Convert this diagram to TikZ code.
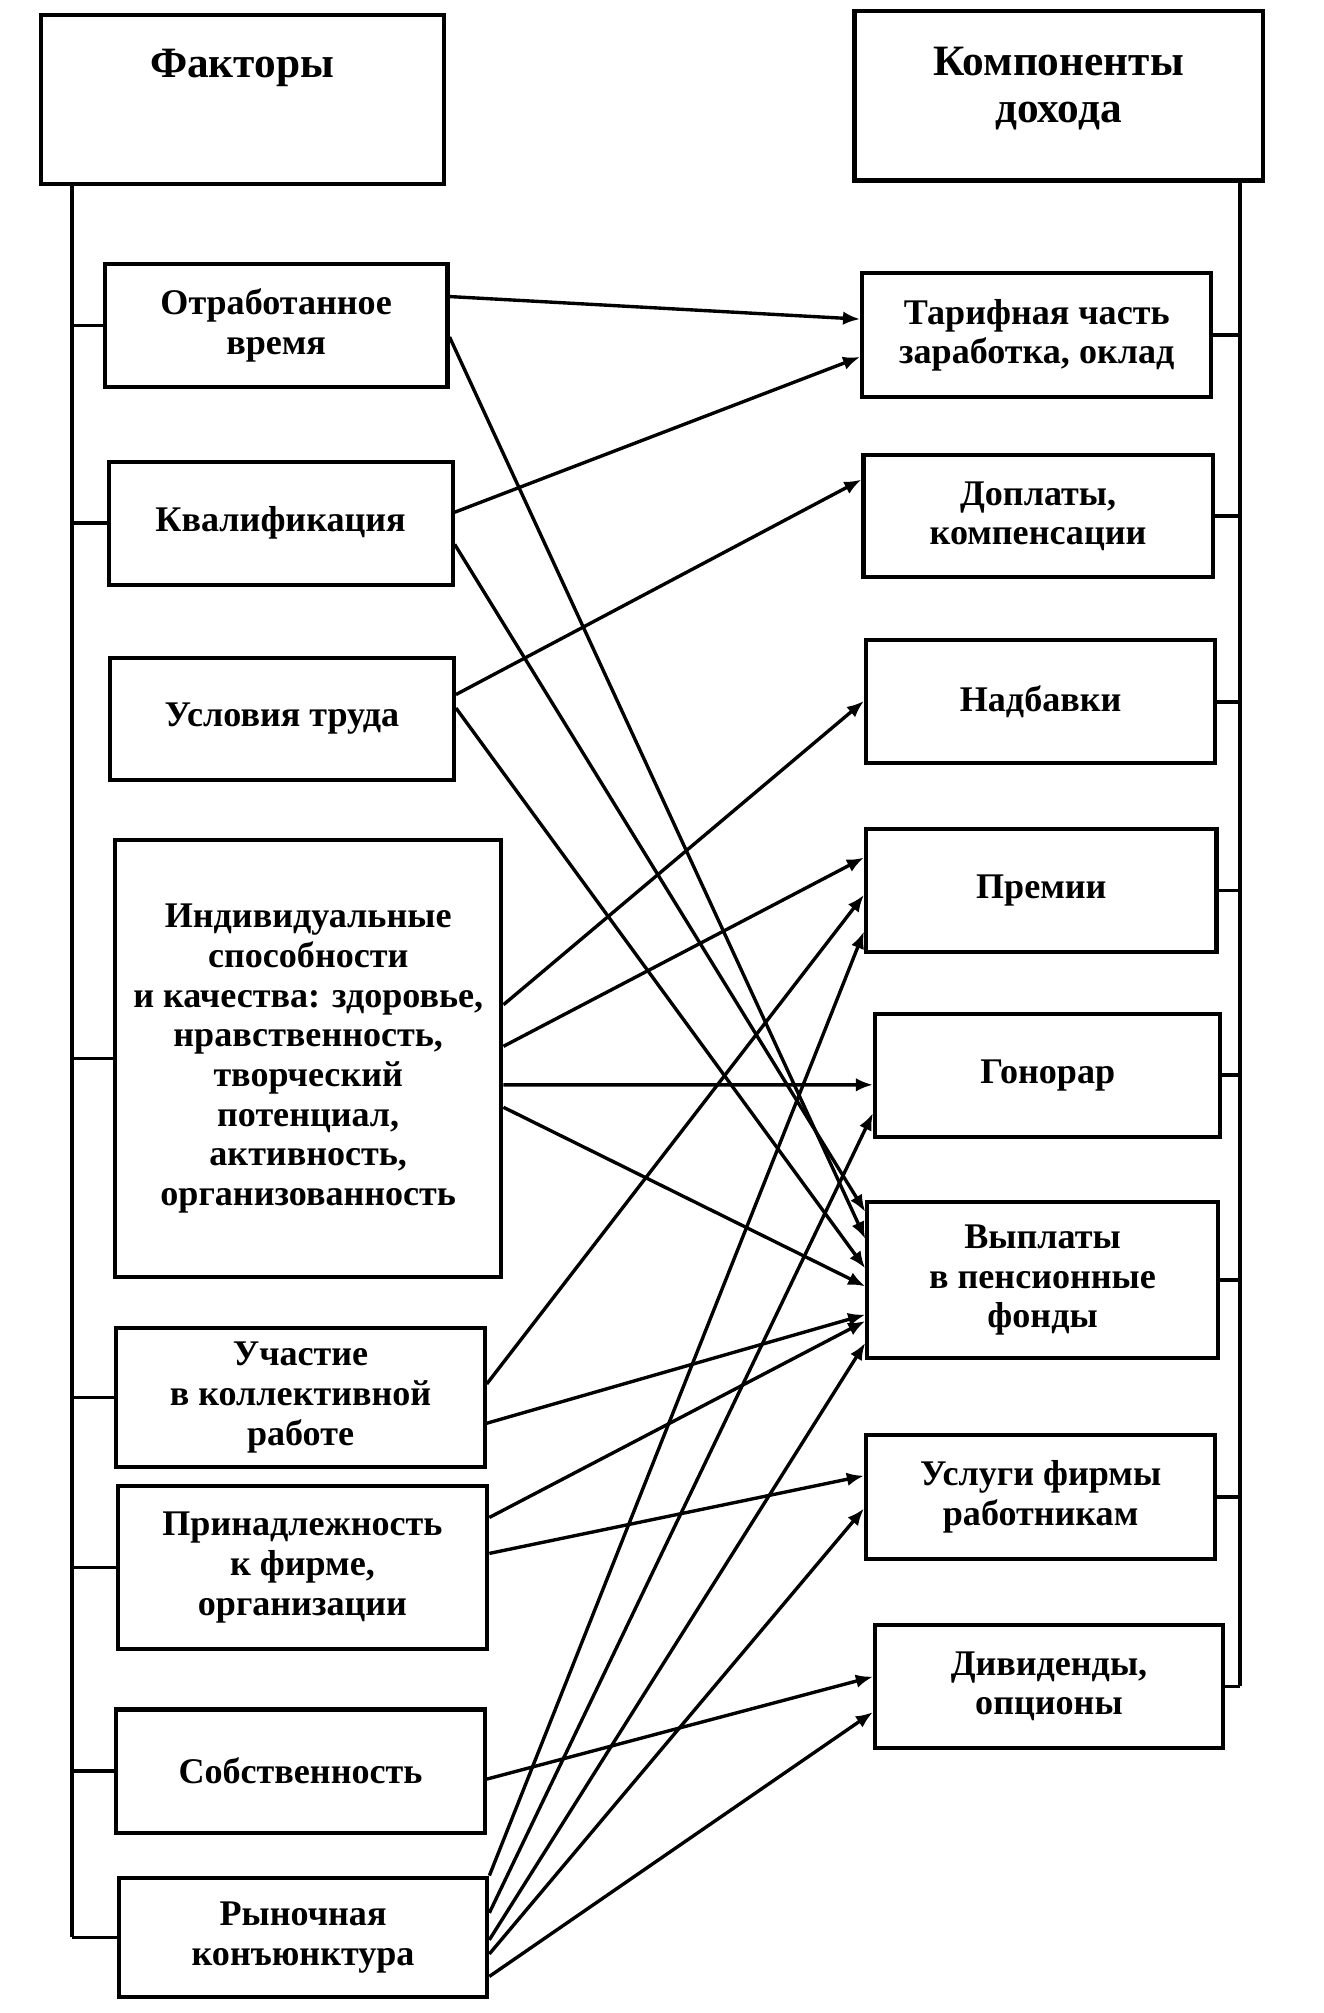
\documentclass[tikz,border=0pt]{standalone}
\usepackage{fontspec}
\setmainfont{Liberation Serif}
\usepackage{tikz}
\usetikzlibrary{arrows.meta,positioning}
\tikzset{
  fbox/.style={
    draw, line width=0.9pt, align=center, inner sep=2pt,
    font=\fontsize{8}{8.8}\selectfont\bfseries
  },
  hdr/.style={
    fbox, font=\fontsize{9.6}{10.5}\selectfont\bfseries,
    inner sep=0.1cm, text height=0.39cm, text depth=0.73cm
  },
  arr/.style={-{Latex[length=3.8pt,width=3pt]}, line width=0.75pt},
  bus/.style={line width=0.8pt}
}
\begin{document}
\begin{tikzpicture}
  \path[fill=white, use as bounding box] (0,0) rectangle (10.31,-15.68);
  % FACTORS
  \node[hdr, minimum width=3.14cm, anchor=north west] (fac) at (0.30,-0.10) {Факторы};
  \node[fbox, minimum width=2.67cm, minimum height=0.96cm, anchor=north west] (otr) at (0.80,-2.04)
    {Отработанное\\время};
  \node[fbox, minimum width=2.68cm, minimum height=0.96cm, anchor=north west] (kval) at (0.83,-3.58)
    {Квалификация};
  \node[fbox, minimum width=2.68cm, minimum height=0.95cm, anchor=north west] (usl) at (0.84,-5.11)
    {Условия труда};
  \node[fbox, minimum width=3.01cm, minimum height=3.40cm, anchor=north west] (ind) at (0.88,-6.53)
    {Индивидуальные\\способности\\и качества: здоровье,\\нравственность,\\творческий\\потенциал,\\активность,\\организованность};
  \node[fbox, minimum width=2.87cm, minimum height=1.08cm, anchor=north west] (uch) at (0.89,-10.33)
    {Участие\\в коллективной\\работе};
  \node[fbox, minimum width=2.88cm, minimum height=1.27cm, anchor=north west] (prin) at (0.90,-11.56)
    {Принадлежность\\к фирме,\\организации};
  \node[fbox, minimum width=2.87cm, minimum height=0.96cm, anchor=north west] (sobs) at (0.89,-13.30)
    {Собственность};
  \node[fbox, minimum width=2.87cm, minimum height=0.93cm, anchor=north west] (ryn) at (0.91,-14.61)
    {Рыночная\\конъюнктура};
  % INCOME COMPONENTS
  \node[hdr, text height=0.77cm, text depth=0.35cm, minimum width=3.18cm, anchor=north west] (komp)
    at (6.64,-0.07) {Компоненты\\дохода};
  \node[fbox, minimum width=2.72cm, minimum height=0.97cm, anchor=north west] (tar) at (6.70,-2.11)
    {Тарифная часть\\заработка, оклад};
  \node[fbox, minimum width=2.72cm, minimum height=0.95cm, anchor=north west] (dop) at (6.71,-3.53)
    {Доплаты,\\компенсации};
  \node[fbox, minimum width=2.72cm, minimum height=0.96cm, anchor=north west] (nad) at (6.73,-4.97)
    {Надбавки};
  \node[fbox, minimum width=2.73cm, minimum height=0.96cm, anchor=north west] (prem) at (6.73,-6.44)
    {Премии};
  \node[fbox, minimum width=2.69cm, minimum height=0.96cm, anchor=north west] (gon) at (6.80,-7.88)
    {Гонорар};
  \node[fbox, minimum width=2.73cm, minimum height=1.21cm, anchor=north west] (vyp) at (6.74,-9.35)
    {Выплаты\\в пенсионные\\фонды};
  \node[fbox, minimum width=2.72cm, minimum height=0.97cm, anchor=north west] (usg) at (6.73,-11.16)
    {Услуги фирмы\\работникам};
  \node[fbox, minimum width=2.71cm, minimum height=0.96cm, anchor=north west] (div) at (6.80,-12.64)
    {Дивиденды,\\опционы};
  % BUS LINES
  \coordinate (lx) at (0.56,0);
  \coordinate (rx) at (9.66,0);
  \draw[bus] (lx |- fac.south) -- (lx |- ryn.west);
  \draw[bus] (lx |- otr.west) -- (otr.west);
  \draw[bus] (lx |- kval.west) -- (kval.west);
  \draw[bus] (lx |- ind.west) -- (ind.west);
  \draw[bus] (lx |- uch.west) -- (uch.west);
  \draw[bus] (lx |- prin.west) -- (prin.west);
  \draw[bus] (lx |- sobs.west) -- (sobs.west);
  \draw[bus] (lx |- ryn.west) -- (ryn.west);
  \draw[bus] (rx |- komp.south) -- (rx |- div.east);
  \draw[bus] (tar.east) -- (rx |- tar.east);
  \draw[bus] (dop.east) -- (rx |- dop.east);
  \draw[bus] (nad.east) -- (rx |- nad.east);
  \draw[bus] (prem.east) -- (rx |- prem.east);
  \draw[bus] (gon.east) -- (rx |- gon.east);
  \draw[bus] (vyp.east) -- (rx |- vyp.east);
  \draw[bus] (usg.east) -- (rx |- usg.east);
  \draw[bus] (div.east) -- (rx |- div.east);
  % ARROWS
  \draw[arr] ([yshift=-0.27cm]otr.north east) -- ([yshift=-0.376cm]tar.north west);
  \draw[arr] ([yshift=-0.585cm]otr.north east) -- ([yshift=-0.30cm]vyp.north west);
  \draw[arr] ([yshift=-0.41cm]kval.north east) -- ([yshift=-0.67cm]tar.north west);
  \draw[arr] ([yshift=-0.66cm]kval.north east) -- ([yshift=-0.09cm]vyp.north west);
  \draw[arr] ([yshift=-0.30cm]usl.north east) -- ([yshift=-0.206cm]dop.north west);
  \draw[arr] ([yshift=-0.405cm]usl.north east) -- ([yshift=-0.53cm]vyp.north west);
  \draw[arr] ([yshift=-1.296cm]ind.north east) -- ([yshift=-0.49cm]nad.north west);
  \draw[arr] ([yshift=-1.62cm]ind.north east) -- ([yshift=-0.24cm]prem.north west);
  \draw[arr] ([yshift=-1.92cm]ind.north east) -- ([yshift=-0.57cm]gon.north west);
  \draw[arr] ([yshift=-2.095cm]ind.north east) -- ([yshift=-0.67cm]vyp.north west);
  \draw[arr] ([yshift=-0.45cm]uch.north east) -- ([yshift=-0.53cm]prem.north west);
  \draw[arr] ([yshift=-0.756cm]uch.north east) -- ([yshift=-0.89cm]vyp.north west);
  \draw[arr] ([yshift=-0.26cm]prin.north east) -- ([yshift=-0.94cm]vyp.north west);
  \draw[arr] ([yshift=-0.54cm]prin.north east) -- ([yshift=-0.335cm]usg.north west);
  \draw[arr] ([yshift=-0.558cm]sobs.north east) -- ([yshift=-0.42cm]div.north west);
  \draw[arr] (ryn.north east) -- ([yshift=-0.815cm]prem.north west);
  \draw[arr] ([yshift=-0.29cm]ryn.north east) -- ([yshift=-0.79cm]gon.north west);
  \draw[arr] ([yshift=-0.50cm]ryn.north east) -- ([yshift=-1.11cm]vyp.north west);
  \draw[arr] ([yshift=-0.61cm]ryn.north east) -- ([yshift=-0.59cm]usg.north west);
  \draw[arr] ([yshift=-0.785cm]ryn.north east) -- ([yshift=-0.696cm]div.north west);
\end{tikzpicture}
\end{document}
